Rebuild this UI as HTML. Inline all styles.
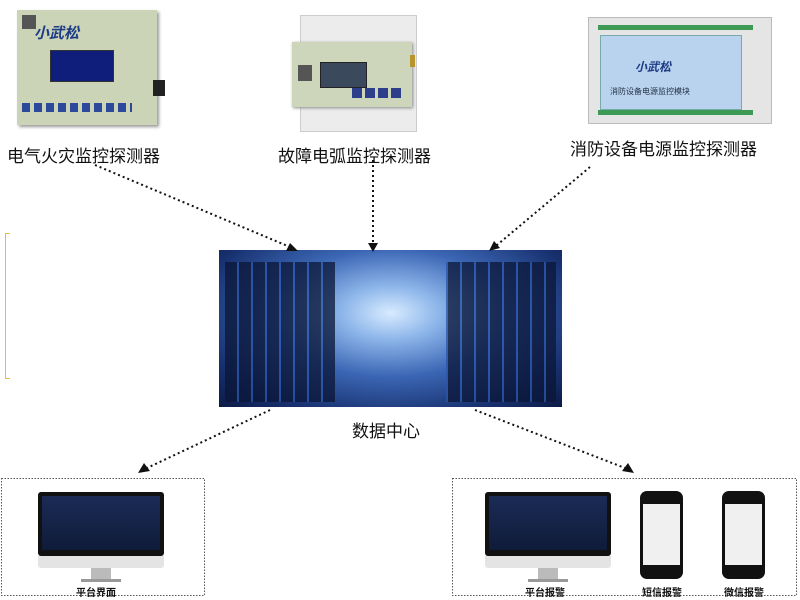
<!DOCTYPE html>
<html><head><meta charset="utf-8"><style>
body{margin:0;width:800px;height:600px;background:#fff;position:relative;overflow:hidden;font-family:"Liberation Sans","Noto Sans CJK SC",sans-serif;}
.a{position:absolute;}
.lbl{position:absolute;font-size:17px;color:#111;white-space:nowrap;}
.sm{position:absolute;font-size:10px;font-weight:bold;color:#111;white-space:nowrap;}
.mon{position:absolute;}
.mon .scr{position:absolute;left:0;top:0;right:0;height:64px;background:#111;border-radius:3px;}
.mon .in{position:absolute;left:4px;top:4px;right:4px;height:54px;background:linear-gradient(#1a2b55,#0f1b3a);}
.mon .chin{position:absolute;left:0;right:0;top:64px;height:12px;background:#e4e4e4;border-radius:0 0 3px 3px;}
.mon .neck{position:absolute;top:76px;height:12px;width:20px;background:#bbb;}
.mon .base{position:absolute;top:87px;height:3px;width:40px;background:#999;}
.ph{position:absolute;width:43px;height:88px;background:#111;border-radius:7px;}
.ph .s{position:absolute;left:3px;right:3px;top:13px;bottom:14px;background:#f0f0f0;}
</style></head><body>
<div class="a" style="left:17px;top:10px;width:140px;height:115px;background:#cbd4b7;box-shadow:2px 2px 3px #999;"></div>
<div class="a" style="left:22px;top:15px;width:14px;height:14px;background:#555;"></div>
<div class="a" style="left:34px;top:22px;font-size:15px;font-weight:bold;color:#1d3c86;font-style:italic">小武松</div>
<div class="a" style="left:50px;top:50px;width:62px;height:30px;background:#0f1e7a;border:1px solid #333"></div>
<div class="a" style="left:153px;top:80px;width:12px;height:16px;background:#222;"></div>
<div class="a" style="left:22px;top:103px;width:110px;height:9px;background:repeating-linear-gradient(90deg,#2d4a9a 0 8px,transparent 8px 12px)"></div>
<div class="a" style="left:300px;top:15px;width:115px;height:115px;background:#ececec;border:1px solid #ccc"></div>
<div class="a" style="left:292px;top:42px;width:120px;height:65px;background:#cdd5bb;box-shadow:1px 1px 3px #888"></div>
<div class="a" style="left:320px;top:62px;width:45px;height:24px;background:#3a4a5c;border:1px solid #222"></div>
<div class="a" style="left:298px;top:65px;width:14px;height:16px;background:#555"></div>
<div class="a" style="left:352px;top:88px;width:52px;height:10px;background:repeating-linear-gradient(90deg,#2d3f8a 0 10px,transparent 10px 13px)"></div>
<div class="a" style="left:410px;top:55px;width:5px;height:12px;background:#b8942e"></div>
<div class="a" style="left:588px;top:17px;width:182px;height:105px;background:#e5e5e5;border:1px solid #bbb"></div>
<div class="a" style="left:598px;top:25px;width:155px;height:5px;background:#3c9a54"></div>
<div class="a" style="left:598px;top:110px;width:155px;height:5px;background:#3c9a54"></div>
<div class="a" style="left:600px;top:35px;width:140px;height:73px;background:#b9d2ee;border:1px solid #7aa"></div>
<div class="a" style="left:635px;top:58px;font-size:12px;font-weight:bold;color:#1d3c86;font-style:italic">小武松</div>
<div class="a" style="left:610px;top:86px;font-size:8px;color:#234">消防设备电源监控模块</div>
<div class="lbl" style="left:7px;top:142px">电气火灾监控探测器</div>
<div class="lbl" style="left:278px;top:142px">故障电弧监控探测器</div>
<div class="lbl" style="left:570px;top:135px">消防设备电源监控探测器</div>
<div class="a" style="left:5px;top:233px;width:4px;height:144px;border:1px solid #e8b84a;border-right:none"></div>
<div class="a" style="left:219px;top:250px;width:343px;height:157px;background:radial-gradient(ellipse at 50% 40%,#d8ebff 0%,#8db6ea 20%,#3b66b4 48%,#17306e 80%,#0c1a45 100%)"></div>
<div class="a" style="left:225px;top:262px;width:110px;height:140px;background:repeating-linear-gradient(90deg,#0a1535 0 12px,#2a55aa 12px 14px);opacity:.75"></div>
<div class="a" style="left:446px;top:262px;width:110px;height:140px;background:repeating-linear-gradient(90deg,#2a55aa 0 2px,#0a1535 2px 14px);opacity:.75"></div>
<div class="lbl" style="left:352px;top:417px">数据中心</div>
<svg class="a" style="left:0;top:0" width="800" height="600">
<g stroke="#111" stroke-width="2" stroke-dasharray="2,3" fill="none">
<line x1="95" y1="165" x2="290" y2="247"/>
<line x1="373" y1="160" x2="373" y2="244"/>
<line x1="590" y1="167" x2="497" y2="245"/>
<line x1="270" y1="410" x2="147" y2="468"/>
<line x1="475" y1="410" x2="625" y2="468"/>
</g>
<g fill="#111">
<polygon points="298,251 286,251 290,243"/>
<polygon points="373,252 368,243 378,243"/>
<polygon points="489,251 494,241 500,248"/>
<polygon points="138,473 144,463 150,471"/>
<polygon points="634,473 622,471 628,463"/>
</g>
<rect x="1.5" y="478.5" width="203" height="117" fill="none" stroke="#555" stroke-dasharray="1.5,1.5"/>
<rect x="452.5" y="478.5" width="344" height="117" fill="none" stroke="#555" stroke-dasharray="1.5,1.5"/>
</svg>
<div class="mon" style="left:38px;top:492px;width:126px;height:92px"><div class="scr"><div class="in"></div></div><div class="chin"></div><div class="neck" style="left:53px"></div><div class="base" style="left:43px"></div></div>
<div class="sm" style="left:76px;top:584px">平台界面</div>
<div class="mon" style="left:485px;top:492px;width:126px;height:92px"><div class="scr"><div class="in"></div></div><div class="chin"></div><div class="neck" style="left:53px"></div><div class="base" style="left:43px"></div></div>
<div class="sm" style="left:525px;top:584px">平台报警</div>
<div class="ph" style="left:640px;top:491px"><div class="s"></div></div>
<div class="sm" style="left:642px;top:584px">短信报警</div>
<div class="ph" style="left:722px;top:491px"><div class="s"></div></div>
<div class="sm" style="left:724px;top:584px">微信报警</div>
</body></html>
